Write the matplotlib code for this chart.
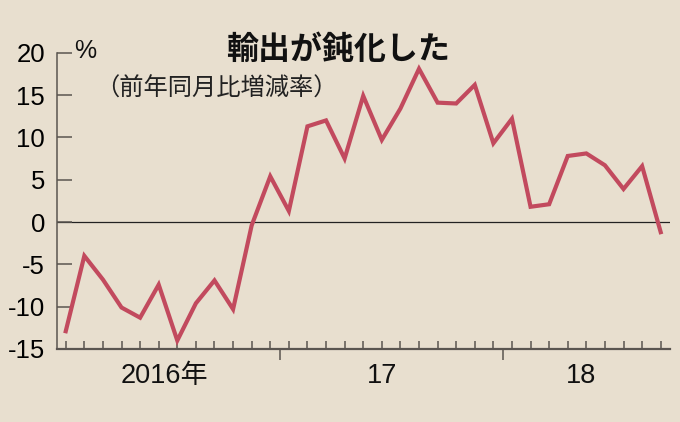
import matplotlib
matplotlib.use('Agg')
import matplotlib.pyplot as plt
import numpy as np

# monthly export growth (y/y %), Jan 2016 - Sep 2018
values = [-12.9, -4.0, -6.8, -10.1, -11.3, -7.4, -14.0, -9.6, -6.9, -10.3, -0.4, 5.4,
          1.3, 11.3, 12.0, 7.5, 14.9, 9.7, 13.4, 18.1, 14.1, 14.0, 16.2, 9.3,
          12.2, 1.8, 2.1, 7.8, 8.1, 6.7, 3.9, 6.6, -1.2]
yticks = [-15, -10, -5, 0, 5, 10, 15, 20]
year_labels = ['2016年', '17', '18']
year_label_pos = [5.3, 17.0, 27.7]
year_breaks = [11.5, 23.5]

BG = '#e8dfcf'
RED = '#c24a5e'
AX = '#5a5550'
NUM = ['Liberation Sans Narrow', 'Liberation Sans', 'Noto Sans CJK JP']
JP = ['Noto Sans CJK JP', 'DejaVu Sans']

W, H = 680, 422
fig = plt.figure(figsize=(W / 100, H / 100), dpi=100, facecolor=BG)
ax = fig.add_axes([57 / W, 1 - 349 / H, (670 - 57) / W, (349 - 52.7) / H])
ax.set_facecolor(BG)

x = np.arange(len(values))
ax.axhline(0, color='#222222', lw=0.9, zorder=1)
ax.plot(x, values, color=RED, lw=3.0, solid_joinstyle='miter', zorder=3)

ax.set_xlim(-0.47, 32.5)
ax.set_ylim(-15, 20)

for s in ['top', 'right']:
    ax.spines[s].set_visible(False)
ax.spines['left'].set_color(AX)
ax.spines['left'].set_linewidth(1.1)
ax.spines['bottom'].set_color(AX)
ax.spines['bottom'].set_linewidth(1.6)

ax.set_yticks(yticks)
ax.set_yticklabels([str(v) for v in yticks], family=NUM, fontsize=18.5)
ax.tick_params(axis='y', direction='in', length=11, width=1.1, color=AX, pad=8.5)

ax.set_xticks(year_breaks)
ax.set_xticklabels([])
ax.set_xticks(x, minor=True)
ax.tick_params(axis='x', which='major', direction='out', length=8, width=1.1, color=AX)
ax.tick_params(axis='x', which='minor', direction='in', length=5.5, width=1.1, color=AX)

for pos, lab in zip(year_label_pos, year_labels):
    ax.text(pos, -16.7, lab, ha='center', va='top', fontsize=19.5, family=NUM, color='#111111')

fig.text(74 / W, 1 - 51 / H, '%', ha='left', va='center', fontsize=18, family=NUM, color='#111111')
fig.text(338 / W, 1 - 50 / H, '輸出が鈍化した', ha='center', va='center', fontsize=23,
         family=JP, fontweight='bold', color='#111111')
fig.text(95 / W, 1 - 89 / H, '（前年同月比増減率）', ha='left', va='center', fontsize=17.5,
         family=JP, color='#222222')

fig.savefig('out.png', dpi=100, facecolor=BG)
